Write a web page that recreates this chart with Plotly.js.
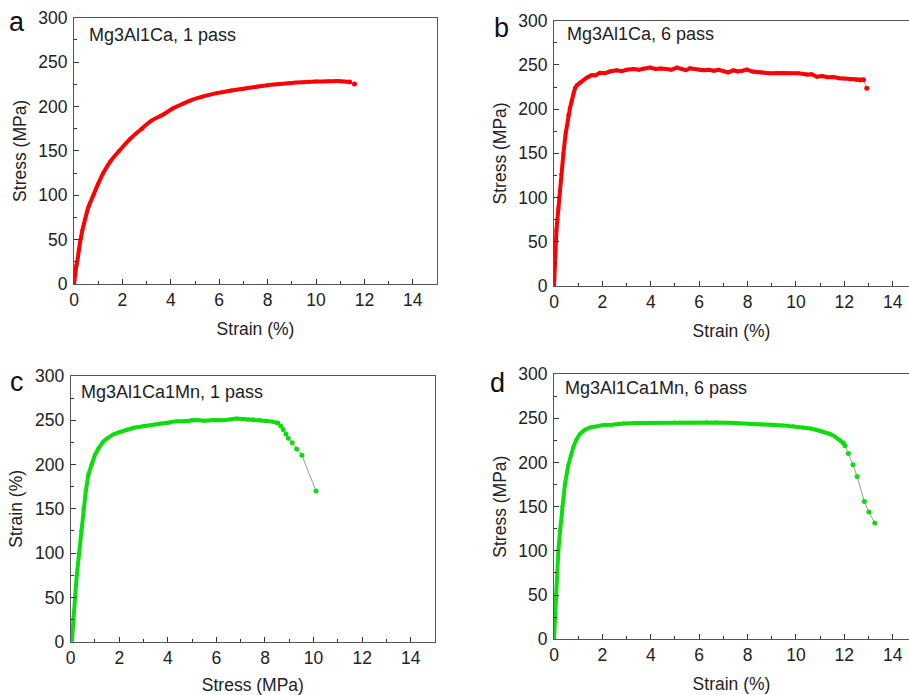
<!DOCTYPE html>
<html>
<head>
<meta charset="utf-8">
<script src="https://cdn.plot.ly/plotly-3.0.1.min.js"></script>
<style>html,body{margin:0;padding:0;background:#fff;}#chart{width:909px;height:695px;}</style>
</head>
<body>
<div id="chart"></div>
<script>
// ---- Data ----
const panelLetters = ['a', 'b', 'c', 'd'];
const sampleNames = ['Mg3Al1Ca, 1 pass', 'Mg3Al1Ca, 6 pass', 'Mg3Al1Ca1Mn, 1 pass', 'Mg3Al1Ca1Mn, 6 pass'];
const xTitles = ['Strain (%)', 'Strain (%)', 'Stress (MPa)', 'Strain (%)'];
const yTitles = ['Stress (MPa)', 'Stress (MPa)', 'Strain (%)', 'Stress (MPa)'];

const aStrain = [0,0.05,0.1,0.14,0.2,0.27,0.35,0.45,0.6,0.8,1.0,1.21,1.5,1.87,2.3,2.8,3.2,3.69,4.1,4.5,4.79,5.3,5.9,6.5,7,7.5,8,8.5,9,9.5,10,10.5,11,11.39];
const aStress = [0,11,21,26,38,50,61,72,87,100,113,125,138,150,163,175,184,191,198,203,206.5,211,215,218,220,222,224,225.3,226.5,227.3,228,228.4,228.5,227.6];
const aTailStrain = [11.39, 11.59];
const aTailStress = [227.6, 225.3];

const bStrain = [0,0.03,0.06,0.1,0.14,0.18,0.22,0.3,0.39,0.48,0.59,0.66,0.73,0.8,0.87,0.95,1.07,1.2,1.35,1.45,1.56,1.7,1.9,2.1,2.3,2.59,2.8,3.0,3.28,3.5,3.7,3.97,4.2,4.4,4.66,4.85,5.07,5.3,5.45,5.62,5.8,6.0,6.17,6.4,6.6,6.8,7.0,7.2,7.41,7.6,7.8,7.97,8.2,8.38,8.6,8.9,9.2,9.48,9.8,10.1,10.45,10.65,10.86,11.1,11.3,11.55,11.8,12.0,12.24,12.5,12.65,12.79];
const bStress = [0,25,50,63,75,88,100,126,150,172,193,201,209,217,224,227,229.8,232,235.5,237,238.5,238,241.2,240.5,242.5,243.9,243,244.5,245.4,244.5,246,247,245.5,246,245.4,244.5,247,245.5,244,246.2,245.5,244.5,243.9,244.5,243.5,244.5,243.1,241.5,243.9,242.5,243.5,244.7,242.5,241.6,241.5,240.5,241,240.8,240.5,240.5,239.3,239.5,236.6,237.5,236,236.3,235,234.5,233.6,233,232.5,233.2];
const bTailStrain = [12.79, 12.93];
const bTailStress = [233.2, 223.7];

const cStrain = [0.05,0.1,0.18,0.25,0.34,0.43,0.52,0.62,0.73,0.86,1.0,1.14,1.34,1.5,1.75,2.0,2.31,2.6,2.99,3.3,3.68,4.0,4.36,4.7,5.0,5.19,5.5,5.8,6.01,6.3,6.6,6.83,7.1,7.3,7.52,7.8,8.07,8.3,8.52];
const cStress = [0,25,50,75,100,125,150,170,189,200,211,218,226,229.5,234,236.5,239.6,241.5,243.3,244.5,246.3,247,248.9,249,250.5,250.4,249.5,250.5,250.4,250,251,251.9,251.5,251,251.1,250.5,249.6,248.5,247];
const cTailStrain = [8.52,8.65,8.75,8.86,8.96,9.12,9.30,9.52,10.1];
const cTailStress = [247,243.6,239.5,234.5,229.7,224.7,217.6,210.4,170.2];

const dStrain = [0,0.04,0.08,0.13,0.18,0.26,0.34,0.45,0.59,0.7,0.8,0.93,1.07,1.28,1.49,1.7,2.04,2.4,2.87,3.4,3.97,4.5,5.0,5.35,5.8,6.3,6.73,7.2,7.6,8.1,8.6,9.0,9.48,9.9,10.31,10.6,10.86,11.1,11.41,11.6,11.82,11.96];
const dStress = [0,25,50,75,100,125,150,175,197,208,217.4,226,232.2,237,239.6,240.5,242.2,242.5,244.1,244.5,244.8,245,245.2,245.2,245,245.3,245.2,244.8,244.5,243.3,243,242.5,241.9,241,239.6,238.5,236.7,235,232.2,229.5,225.6,221.9];
const dTailStrain = [11.96,12.03,12.17,12.36,12.53,12.83,13.02,13.26];
const dTailStress = [221.9,219,210,197.5,184,155.7,144,131.5];

// ---- Styling ----
const RED = '#ff0000', GREEN = '#0ddc0d';
const W = 909, H = 695;
const px = x => x / W, py = y => 1 - y / H;
const FONT = 'Liberation Sans, Arial, sans-serif';

const panels = [
  {x: aStrain, y: aStress, tx: aTailStrain, ty: aTailStress, color: RED, shape: 'spline',
   box: [74, 437, 17.7, 284], xmax: 15, mirrorY: true, lbl: [17, 22], name: [87, 35]},
  {x: bStrain, y: bStress, tx: bTailStrain, ty: bTailStress, color: RED, shape: 'linear',
   box: [554, 909, 20.7, 286], xmax: 14.675, mirrorY: false, lbl: [501, 28], name: [565, 34]},
  {x: cStrain, y: cStress, tx: cTailStrain, ty: cTailStress, color: GREEN, shape: 'linear',
   box: [70.7, 435, 376, 641.7], xmax: 15, mirrorY: true, lbl: [17, 382], name: [79, 392]},
  {x: dStrain, y: dStress, tx: dTailStrain, ty: dTailStress, color: GREEN, shape: 'linear',
   box: [554, 909, 374, 639.3], xmax: 14.675, mirrorY: false, lbl: [497, 383], name: [563, 388]}
];

const data = [];
const layout = {
  width: W, height: H,
  margin: {l: 0, r: 0, t: 0, b: 0},
  paper_bgcolor: '#fff', plot_bgcolor: '#fff',
  showlegend: false,
  font: {family: FONT, color: '#222', size: 17.5},
  annotations: []
};

panels.forEach((p, i) => {
  const k = i === 0 ? '' : String(i + 1);
  const xa = 'x' + k, ya = 'y' + k;
  data.push({
    x: p.tx, y: p.ty, xaxis: xa, yaxis: ya, type: 'scatter', mode: 'lines+markers',
    line: {color: '#9a9a9a', width: 1}, marker: {color: p.color, size: 5}, hoverinfo: 'skip'
  });
  data.push({
    x: p.x, y: p.y, xaxis: xa, yaxis: ya, type: 'scatter', mode: 'lines+markers',
    line: {color: p.color, width: 4, shape: p.shape}, marker: {color: p.color, size: 4}, hoverinfo: 'skip'
  });
  const [l, r, t, b] = p.box;
  const common = {
    showline: true, linecolor: '#555', linewidth: 1, showgrid: false, zeroline: false,
    ticks: 'inside', ticklen: 5, tickwidth: 1, tickcolor: '#333',
    tickfont: {family: FONT, size: 17.5, color: '#222'}
  };
  layout['xaxis' + k] = Object.assign({}, common, {
    domain: [px(l), px(r)], anchor: ya, range: [0, p.xmax], tick0: 0, dtick: 2,
    mirror: true,
    minor: {ticks: 'inside', ticklen: 3, dtick: 1, tickcolor: '#333'},
    title: {text: xTitles[i], font: {family: FONT, size: 17.5, color: '#222'}, standoff: 13}
  });
  layout['yaxis' + k] = Object.assign({}, common, {
    domain: [py(b), py(t)], anchor: xa, range: [0, 300], tick0: 0, dtick: 50,
    mirror: p.mirrorY,
    minor: {ticks: 'inside', ticklen: 3, dtick: 25, tickcolor: '#333'},
    ticklabelstandoff: 2,
    title: {text: yTitles[i], font: {family: FONT, size: 17.5, color: '#222'}, standoff: 7}
  });
  layout.annotations.push({
    xref: 'paper', yref: 'paper', x: px(p.lbl[0]), y: py(p.lbl[1]), xanchor: 'center', yanchor: 'middle',
    text: panelLetters[i], showarrow: false, font: {family: FONT, size: 27, color: '#111'}
  });
  layout.annotations.push({
    xref: 'paper', yref: 'paper', x: px(p.name[0]), y: py(p.name[1]), xanchor: 'left', yanchor: 'middle',
    text: sampleNames[i], showarrow: false, font: {family: FONT, size: 18, color: '#222'}
  });
});

Plotly.newPlot('chart', data, layout, {staticPlot: true, displayModeBar: false});
</script>
</body>
</html>
